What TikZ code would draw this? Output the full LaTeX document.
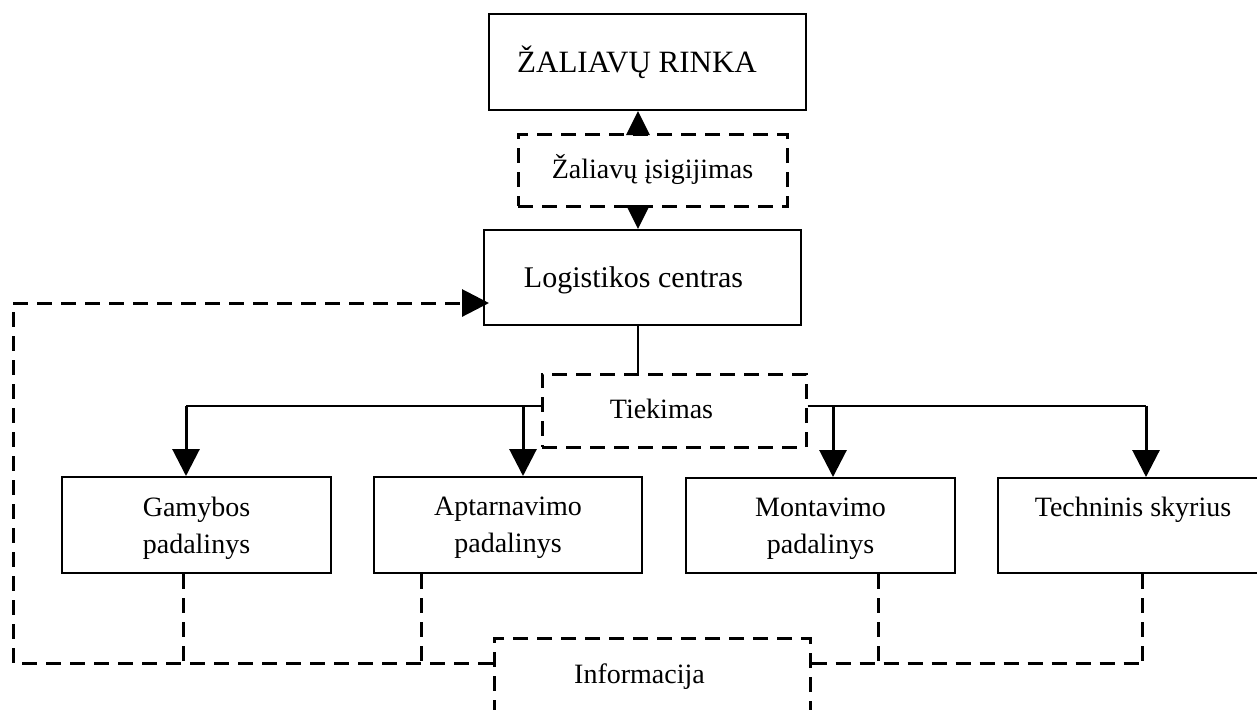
\documentclass[tikz,border=0pt]{standalone}
\usepackage{fontspec}
\setmainfont{Liberation Serif}
\usetikzlibrary{arrows.meta}

\begin{document}
\begin{tikzpicture}[x=0.5pt,y=-0.5pt,
  solidbox/.style={draw=black, line width=1pt, inner sep=0pt},
  dashbox/.style={draw=black, line width=1.5pt, dash pattern=on 7.5pt off 4.5pt, inner sep=0pt},
  oneline/.style={text height=0.8em, text depth=0pt},
  twoline/.style={align=center, text depth=-2pt},
  txt/.style={font=\fontsize{14pt}{18.5pt}\selectfont},
  bigtxt/.style={font=\fontsize{15pt}{18.5pt}\selectfont, text height=1em},
  tie/.style={line width=1pt},
  smallarrow/.style={line width=1.5pt, -{Triangle[length=12pt,width=11.5pt]}},
  bigarrow/.style={line width=1.5pt, -{Triangle[length=13.5pt,width=13.5pt]}},
  infoline/.style={line width=1.5pt, dash pattern=on 7.5pt off 4.5pt}]

\useasboundingbox (0,0) rectangle (1257,709);
\clip (0,0) rectangle (1257,709);

% upper chain
\node[solidbox, oneline, bigtxt, font=\fontsize{15.5pt}{18.5pt}\selectfont,
      minimum width=158.5pt, minimum height=48pt]
  (zal) at (647.5,62) {ŽALIAVŲ RINKA\hspace*{10.5pt}};
\node[dashbox, oneline, txt, minimum width=134.5pt, minimum height=36pt]
  (isig) at (652.5,170) {Žaliavų įsigijimas};
\node[solidbox, oneline, bigtxt, minimum width=158.5pt, minimum height=47.5pt]
  (log) at (642.5,277.5) {Logistikos centras\hspace*{9pt}};
\node[dashbox, oneline, txt, minimum width=132pt, minimum height=36.5pt]
  (tiek) at (674,410.5) {Tiekimas\hspace*{12.5pt}};

% departments
\node[solidbox, twoline, txt, minimum width=134.5pt, minimum height=48pt]
  (gam) at (196.5,525) {Gamybos\\padalinys};
\node[solidbox, twoline, txt, minimum width=134pt, minimum height=48pt]
  (apt) at (508,525) {Aptarnavimo\\padalinys};
\node[solidbox, twoline, txt, minimum width=134.5pt, minimum height=47.5pt]
  (mon) at (820.5,525.5) {Montavimo\\padalinys};
\node[solidbox, twoline, txt, minimum width=135pt, minimum height=47.5pt]
  (tech) at (1133,525.5) {Techninis skyrius\\\strut};

% information box
\node[dashbox, oneline, txt, minimum width=158pt, minimum height=37pt]
  (info) at (652,675) {Informacija\hspace*{12.5pt}};

% guide coordinates
\coordinate (ax) at (638,0);
\coordinate (hy) at (0,405.5);
\coordinate (gx) at (186,0);
\coordinate (axa) at (523,0);
\coordinate (mx) at (833,0);
\coordinate (tx) at (1146,0);
\coordinate (by) at (0,663);
\coordinate (lx) at (13,0);
\coordinate (ly) at (0,303);
\coordinate (d1) at (183,0);
\coordinate (d2) at (421,0);
\coordinate (d3) at (878,0);
\coordinate (d4) at (1142,0);

% purchasing arrows
\draw[smallarrow] (isig.north -| ax) -- (zal.south -| ax);
\draw[smallarrow] (isig.south -| ax) -- (log.north -| ax);

% supply distribution
\draw[tie] (log.south -| ax) -- (tiek.north -| ax);
\draw[tie] (tiek.west |- hy) -- (gx |- hy);
\draw[tie] (tiek.east |- hy) -- (tx |- hy);
\draw[bigarrow] (gx |- hy) -- (gam.north -| gx);
\draw[bigarrow] (axa |- hy) -- (apt.north -| axa);
\draw[bigarrow] (mx |- hy) -- (mon.north -| mx);
\draw[bigarrow] (tx |- hy) -- (tech.north -| tx);

% information feedback
\draw[infoline] (gam.south -| d1) -- (d1 |- by);
\draw[infoline] (apt.south -| d2) -- (d2 |- by);
\draw[infoline] (mon.south -| d3) -- (d3 |- by);
\draw[infoline] (tech.south -| d4) -- (d4 |- by);
\draw[infoline] (info.east |- by) -- (d4 |- by);
\draw[infoline] (info.west |- by) -| (lx |- ly);
\draw[infoline, -{Triangle[length=13.5pt,width=13.5pt]}, shorten >=-3pt]
  (lx |- ly) -- (log.west |- ly);
\end{tikzpicture}
\end{document}
